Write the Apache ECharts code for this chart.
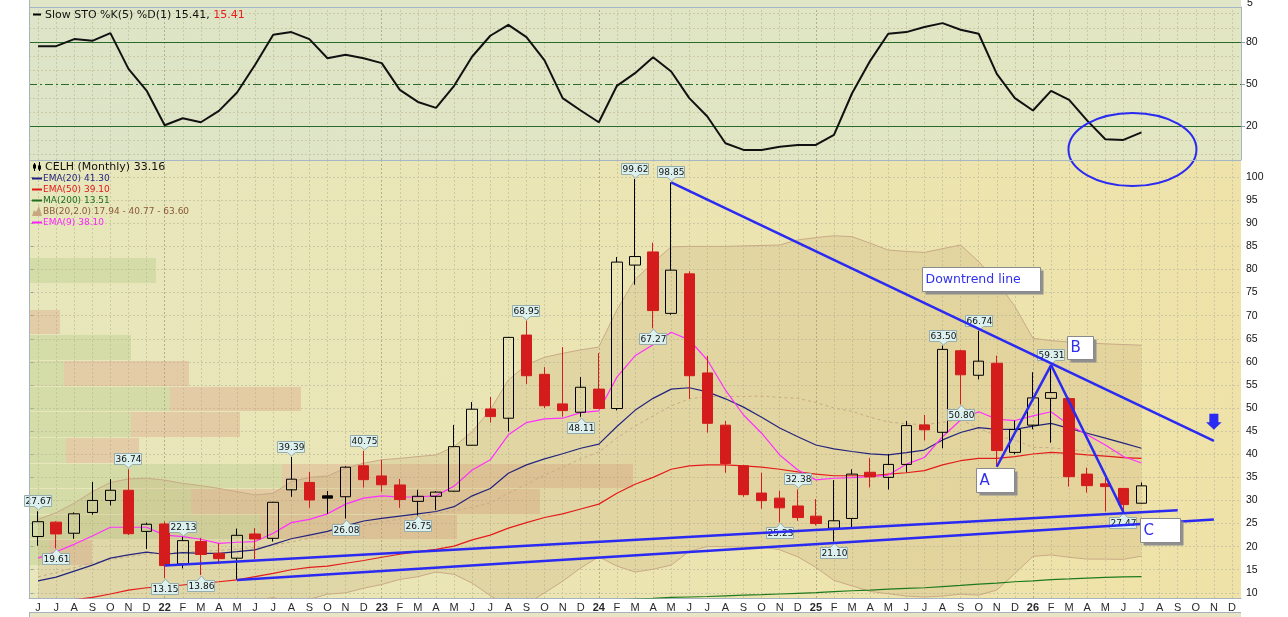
<!DOCTYPE html>
<html>
<head>
<meta charset="utf-8">
<script src="https://cdn.jsdelivr.net/npm/echarts@6/dist/echarts.min.js"></script>
<style>html,body{margin:0;padding:0;background:#fff;}#c{width:1288px;height:617px;}</style>
</head>
<body>
<div id="c"></div>
<script>
// ---------- categories & tick labels ----------
const categories = [
 '2021-06','2021-07','2021-08','2021-09','2021-10','2021-11','2021-12',
 '2022-01','2022-02','2022-03','2022-04','2022-05','2022-06','2022-07','2022-08','2022-09','2022-10','2022-11','2022-12',
 '2023-01','2023-02','2023-03','2023-04','2023-05','2023-06','2023-07','2023-08','2023-09','2023-10','2023-11','2023-12',
 '2024-01','2024-02','2024-03','2024-04','2024-05','2024-06','2024-07','2024-08','2024-09','2024-10','2024-11','2024-12',
 '2025-01','2025-02','2025-03','2025-04','2025-05','2025-06','2025-07','2025-08','2025-09','2025-10','2025-11','2025-12',
 '2026-01','2026-02','2026-03','2026-04','2026-05','2026-06','2026-07','2026-08','2026-09','2026-10','2026-11','2026-12'
];
const tickLabels = [
 'J','J','A','S','O','N','D',
 '22','F','M','A','M','J','J','A','S','O','N','D',
 '23','F','M','A','M','J','J','A','S','O','N','D',
 '24','F','M','A','M','J','J','A','S','O','N','D',
 '25','F','M','A','M','J','J','A','S','O','N','D',
 '26','F','M','A','M','J','J','A','S','O','N','D'
];
const mainTicks = [10,15,20,25,30,35,40,45,50,55,60,65,70,75,80,85,90,95,100];
const stochTicks = [20,50,80];
const stochGridValues = [0,10,30,40,60,70,90,100];

// ---------- OHLC (Jun 2021 .. Jul 2026) ----------
const opens = [22.2,25.3,22.9,27.4,30.0,32.2,23.3,24.9,16.25,21.1,
 18.55,17.5,22.74,21.8,32.3,33.9,31.0,30.8,37.5,35.3,
 33.35,29.8,30.9,32.0,41.95,49.8,47.8,65.8,57.3,50.9,
 49.1,54.1,49.9,80.95,83.8,70.5,79.05,57.6,46.3,37.5,
 31.6,30.5,28.8,26.6,24.0,26.1,36.1,35.0,37.8,46.35,
 44.75,62.4,57.1,59.7,40.4,46.3,52.1,52.05,35.7,33.6,
 32.6,29.4];
const closes = [25.4,22.75,27.1,30.0,32.2,22.8,24.85,15.9,21.3,18.3,
 17.4,22.45,21.66,29.6,34.6,30.1,30.5,37.2,34.5,33.4,
 30.2,30.9,31.8,41.65,49.75,48.15,65.3,57.0,50.5,49.45,
 54.5,49.9,81.6,82.8,71.1,79.85,57.0,46.7,38.0,31.25,
 29.95,28.4,26.3,25.0,25.6,35.7,35.1,37.8,46.2,45.3,
 62.7,57.2,60.15,40.8,45.35,52.2,53.35,35.15,33.2,33.0,
 29.1,33.16];
const lows = [20.2,19.61,21.7,26.9,28.9,22.5,19.5,13.15,15.3,13.86,
 16.25,12.9,17.3,21.1,30.8,28.4,27.1,26.08,32.8,31.9,
 28.4,26.75,27.9,31.9,41.9,46.85,44.9,55.2,50.0,48.15,
 48.11,49.8,49.5,76.7,67.27,70.2,52.0,44.7,36.0,30.8,
 28.2,25.23,25.6,24.6,21.1,24.0,32.8,32.35,36.1,43.0,
 41.3,50.8,56.2,37.3,40.0,45.4,42.5,33.0,31.7,27.6,
 27.47,29.3];
const highs = [27.67,25.5,27.4,34.0,34.6,36.74,25.2,25.4,22.13,21.9,
 20.7,23.9,24.0,29.7,39.39,36.2,32.05,37.4,40.75,38.8,
 34.65,32.3,32.0,46.35,51.3,52.4,65.4,68.95,58.85,63.2,
 56.7,61.9,82.7,99.62,85.8,98.85,79.6,61.3,47.2,37.7,
 36.0,32.1,32.38,30.3,34.4,36.75,39.2,40.0,47.2,48.5,
 63.5,62.6,66.74,61.35,47.3,57.75,59.31,52.3,37.1,35.1,
 32.7,33.9];

// ---------- overlays ----------
const ema9 = [17.5,18.9,20.5,22.3,24.2,24.2,24.2,22.5,22.15,21.6,
 20.7,20.95,21.1,22.9,25.2,25.9,27.1,29.2,30.5,31.0,
 30.7,30.8,31.0,33.1,36.6,38.8,44.2,46.85,47.65,47.8,
 49.0,49.4,56.7,61.3,63.7,66.4,64.75,60.4,53.9,48.5,
 44.55,39.85,36.6,34.45,34.8,34.95,35.15,35.5,37.85,39.3,
 43.8,47.4,49.2,47.6,47.3,48.3,49.2,46.35,44.2,42.0,
 39.5,38.1];
const ema20 = [12.6,13.4,14.7,16.0,17.5,18.2,18.8,18.35,18.7,18.55,
 18.55,18.9,19.3,20.5,21.7,22.5,23.3,24.5,25.55,26.1,
 26.6,27.1,27.6,28.65,31.0,32.6,35.9,37.7,39.0,40.1,
 41.3,42.2,46.0,49.5,52.1,54.1,54.4,53.5,52.0,50.2,
 48.0,45.7,43.8,42.0,41.15,40.6,40.1,39.85,40.35,40.9,
 43.1,44.7,45.75,45.4,45.4,46.1,46.7,45.6,44.55,43.5,
 42.4,41.3];
const ema50 = [7.0,7.7,8.5,9.0,9.75,10.6,11.1,11.3,11.7,12.1,
 12.4,12.8,13.5,14.2,15.0,15.5,15.8,16.4,17.0,17.7,
 18.35,18.9,19.4,20.1,21.45,22.5,24.0,25.2,26.3,27.1,
 28.15,29.2,31.55,33.5,35.0,36.75,37.5,37.7,37.7,37.5,
 37.2,36.75,36.2,35.7,35.35,35.35,35.35,35.7,36.0,36.45,
 37.7,38.6,39.1,39.1,39.5,40.05,40.4,40.2,39.85,39.6,
 39.25,39.1];
const ma200 = [null,null,null,null,null,null,null,null,null,null,
 null,null,null,null,null,null,null,null,null,null,
 null,null,null,null,null,null,null,null,null,null,
 null,8.3,8.5,8.65,8.8,9.0,9.1,9.2,9.35,9.5,
 9.6,9.75,9.9,10.05,10.25,10.45,10.6,10.8,10.95,11.1,
 11.35,11.6,11.9,12.1,12.4,12.6,12.85,13.0,13.2,13.35,
 13.45,13.51];
const bbUpper = [25.9,27.35,29.4,31.9,33.9,34.65,34.8,34.4,33.7,33.2,
 32.6,31.9,31.2,31.55,34.05,35.0,35.3,37.0,38.05,38.8,
 39.1,39.5,39.85,41.65,44.9,49.6,56.1,59.35,61.0,61.85,
 62.6,63.2,71.25,77.8,81.5,84.9,85.0,85.0,85.0,85.1,
 85.2,85.3,86.4,86.9,87.3,87.1,85.7,84.2,83.9,83.7,
 84.5,85.3,81.7,77.4,72.0,65.1,64.6,64.3,64.1,63.9,
 63.75,63.6];
const bbLower = [1.0,1.5,1.5,1.0,0.5,1.0,2.0,2.8,3.9,4.8,
 5.8,7.1,8.4,9.0,8.0,8.6,9.7,10.0,11.0,11.8,
 12.9,13.5,14.5,14.0,12.1,9.4,7.0,7.6,10.0,12.5,
 15.4,17.8,15.8,14.5,15.1,16.0,19.0,20.0,20.0,19.9,
 20.0,19.3,17.8,15.5,12.7,11.5,10.3,9.8,9.3,9.1,
 9.3,9.7,9.5,10.6,14.2,17.9,18.2,17.7,17.3,17.3,
 17.25,17.94];
const bbMiddle = [13.45,14.4,15.45,16.45,17.2,17.8,18.4,18.6,18.8,19.0,
 19.2,19.5,19.8,20.3,21.0,21.8,22.5,23.5,24.5,25.3,
 26.0,26.5,27.2,27.8,28.5,29.5,31.55,33.5,35.5,37.2,
 39.0,40.5,43.5,46.1,48.3,50.45,52.0,52.5,52.5,52.5,
 52.6,52.3,52.1,51.2,50.0,49.3,48.0,47.0,46.6,46.4,
 46.9,47.5,45.6,44.0,43.1,41.5,41.4,41.0,40.7,40.6,
 40.5,40.77];

// ---------- Slow stochastic %K ----------
const stochK = [76.9,76.9,81.9,80.7,86.2,60.7,45.2,20.5,25.5,22.6,
 30.7,43.8,63.6,85.0,86.9,81.9,68.3,70.7,68.3,64.8,
 45.7,37.1,32.9,48.6,69.5,84.3,92.1,83.3,66.7,39.8,
 31.0,22.6,48.6,57.6,69.0,58.8,39.8,26.7,7.6,2.9,
 2.9,5.2,6.4,6.4,13.6,43.3,66.4,85.7,86.9,90.5,
 93.3,88.6,85.7,57.1,39.8,31.0,45.0,38.6,23.8,10.5,
 10.0,15.41];

// ---------- Volume by price ----------
const vbpLow  = [77.05,71.5,65.95,60.4,54.85,49.3,43.75,38.2,32.65,27.1,21.55,16.0];
const vbpHigh = [82.6,77.05,71.5,65.95,60.4,54.85,49.3,43.75,38.2,32.65,27.1,21.55];
const vbpUp   = [127,0,0,102,35,141,102,37,253,162,231,20];
const vbpDown = [0,0,31,0,125,131,109,73,351,349,197,43];

// ---------- price callouts ----------
const highLabelIdx = [0,5,8,14,18,27,33,35,42,50,52,56];
const lowLabelIdx  = [1,7,9,17,21,30,34,41,44,51,60];

// ---------- drawn annotations (category index, price) ----------
const downtrend = [[35,98.85],[65,42.9]];
const supportUpper = [[7,15.9],[63,27.9]];
const supportLower = [[11,12.8],[65,25.9]];
const abcPath = [[53,37.3],[56,59.31],[60,27.47]];
const annotText = ['Downtrend line','A','B','C'];
const annotX = [48.85,51.85,56.86,60.92];
const annotY = [80.5,37.0,65.6,26.2];
const arrowAt = [65,48.75];
const circleAt = [60.5,3.2];

// ====================================================
const FONT = '"DejaVu Sans", Verdana, sans-serif';
const AFONT = '"Liberation Sans", Arial, sans-serif';
const BLUE = '#2a2af2';
const annotSize = [[118,24,12.5],[38,24,15],[26,23,15],[40,24,15]];

function fcoord(api, x, y) {
  const i0 = Math.floor(x), f = x - i0;
  const p0 = api.coord([i0, y]);
  if (f === 0) return p0;
  const p1 = api.coord([i0 + 1, y]);
  return [p0[0] + (p1[0] - p0[0]) * f, p0[1]];
}
const mctx = document.createElement('canvas').getContext('2d');
function textW(t, font) { mctx.font = font; return mctx.measureText(t).width; }

const candleData = opens.map((o, i) => {
  const c = closes[i], prev = i > 0 ? closes[i - 1] : o;
  const item = { value: [o, c, lows[i], highs[i]] };
  if (c < o && c >= prev) item.itemStyle = { color0: '#000', borderColor0: '#000' };
  if (c > o && c < prev) item.itemStyle = { borderColor: '#d42020' };
  return item;
});

const labelData = highLabelIdx.map(i => [i, highs[i], 1]).concat(lowLabelIdx.map(i => [i, lows[i], -1]));

const vLines = categories.map((c, i) => ({
  xAxis: c,
  lineStyle: { color: tickLabels[i].length === 2 ? '#b3ae8c' : '#cdc8a4', type: [2, 2], width: 1 }
}));
const gridLineBase = { color: '#cdc8a4', type: [2, 2], width: 1 };
const nullData = categories.map(() => null);

const stochLegend1 = 'Slow STO %K(5) %D(1) 15.41, ';
const legendFont11 = '11px ' + FONT;

const mainGrad = new echarts.graphic.LinearGradient(0, 0, 1, 1, [
  { offset: 0, color: '#e7e7bd' }, { offset: 1, color: '#efe2a7' }]);
const stochGrad = new echarts.graphic.LinearGradient(0, 0, 1, 1, [
  { offset: 0, color: '#dde4c7' }, { offset: 1, color: '#e2e6c2' }]);

function legendLine(y, color, text, tcolor) {
  return [
    { type: 'line', shape: { x1: 32, y1: y + 0.5, x2: 42, y2: y + 0.5 }, style: { stroke: color, lineWidth: 2 }, z: 100 },
    { type: 'text', x: 43, y: y + 1, style: { text: text, font: '9px ' + FONT, fill: tcolor, textVerticalAlign: 'middle', verticalAlign: 'middle' }, z: 100 }
  ];
}

const graphics = [
  { type: 'rect', shape: { x: 29, y: 0, width: 1212, height: 7 }, style: { fill: '#dfe5c6' }, z: -1, silent: true },
  { type: 'rect', shape: { x: 29, y: 7, width: 1212, height: 153 }, style: { fill: stochGrad }, z: -1, silent: true },
  { type: 'rect', shape: { x: 29, y: 160, width: 1212, height: 438 }, style: { fill: mainGrad }, z: -1, silent: true },
  { type: 'rect', shape: { x: 29, y: 612, width: 1212, height: 6 }, style: { fill: '#e9e4c6' }, z: -1, silent: true },
  { type: 'line', shape: { x1: 29, y1: 612.5, x2: 1241, y2: 612.5 }, style: { stroke: '#a5b2bd', lineWidth: 1 }, z: 50 },
  { type: 'line', shape: { x1: 29.5, y1: 0, x2: 29.5, y2: 598 }, style: { stroke: '#a5b4c0', lineWidth: 1 }, z: 50 },
  { type: 'line', shape: { x1: 29.5, y1: 612, x2: 29.5, y2: 617 }, style: { stroke: '#a5b4c0', lineWidth: 1 }, z: 50 },
  { type: 'line', shape: { x1: 29, y1: 7.5, x2: 1241, y2: 7.5 }, style: { stroke: '#a5b7c5', lineWidth: 1 }, z: 50 },
  { type: 'line', shape: { x1: 29, y1: 160.5, x2: 1241, y2: 160.5 }, style: { stroke: '#a5b7c5', lineWidth: 1 }, z: 50 },
  { type: 'text', x: 1247, y: 3, style: { text: '5', font: '10.5px ' + AFONT, fill: '#111', textVerticalAlign: 'middle', verticalAlign: 'middle' }, z: 50 },
  // stochastic legend
  { type: 'line', shape: { x1: 33, y1: 14.5, x2: 41, y2: 14.5 }, style: { stroke: '#000', lineWidth: 2 }, z: 100 },
  { type: 'text', x: 45, y: 15, style: { text: stochLegend1, font: legendFont11, fill: '#111', textVerticalAlign: 'middle', verticalAlign: 'middle' }, z: 100 },
  { type: 'text', x: 45 + textW(stochLegend1, legendFont11), y: 15, style: { text: '15.41', font: legendFont11, fill: '#e82020', textVerticalAlign: 'middle', verticalAlign: 'middle' }, z: 100 },
  // price legend
  { type: 'line', shape: { x1: 34.5, y1: 163, x2: 34.5, y2: 171 }, style: { stroke: '#000', lineWidth: 1 }, z: 100 },
  { type: 'rect', shape: { x: 33, y: 164.5, width: 3, height: 4 }, style: { fill: '#000' }, z: 100 },
  { type: 'line', shape: { x1: 39.5, y1: 162, x2: 39.5, y2: 171 }, style: { stroke: '#000', lineWidth: 1 }, z: 100 },
  { type: 'rect', shape: { x: 38, y: 165.5, width: 3, height: 4 }, style: { fill: '#000' }, z: 100 },
  { type: 'text', x: 45, y: 167, style: { text: 'CELH (Monthly) 33.16', font: legendFont11, fill: '#111', textVerticalAlign: 'middle', verticalAlign: 'middle' }, z: 100 },
  ...legendLine(178, '#1e1e80', 'EMA(20) 41.30', '#1e1e80'),
  ...legendLine(189, '#e01818', 'EMA(50) 39.10', '#e01818'),
  ...legendLine(200, '#1e6e1e', 'MA(200) 13.51', '#1e6e1e'),
  { type: 'polygon', shape: { points: [[32, 216], [34, 210], [36, 212], [39, 206], [42, 216]] }, style: { fill: '#c8a680' }, z: 100 },
  { type: 'text', x: 43, y: 212, style: { text: 'BB(20,2.0) 17.94 - 40.77 - 63.60', font: '9px ' + FONT, fill: '#8c5a36', textVerticalAlign: 'middle', verticalAlign: 'middle' }, z: 100 },
  ...legendLine(222, '#ff22ff', 'EMA(9) 38.10', '#ff22ff')
];

const lineS = (data, color, width, z, extra) => Object.assign({
  type: 'line', xAxisIndex: 1, yAxisIndex: 1, data: data, showSymbol: false, symbol: 'none', silent: true,
  lineStyle: { color: color, width: width }, z: z
}, extra || {});

const option = {
  animation: false,
  backgroundColor: '#ffffff',
  textStyle: { fontFamily: FONT },
  graphic: { elements: graphics },
  grid: [
    { left: 29, top: 7, width: 1212, height: 153 },
    { left: 29, top: 160, width: 1212, height: 438 }
  ],
  xAxis: [
    { type: 'category', gridIndex: 0, data: categories, boundaryGap: true,
      axisLine: { show: false }, axisTick: { show: false }, axisLabel: { show: false }, splitLine: { show: false } },
    { type: 'category', gridIndex: 1, data: categories, boundaryGap: true,
      axisLine: { show: true, lineStyle: { color: '#a5b4c0' } }, axisTick: { show: false }, splitLine: { show: false },
      axisLabel: { interval: 0, margin: 4, fontSize: 11, fontFamily: AFONT, color: '#2a2a2a',
        formatter: (v, i) => tickLabels[i].length === 2 ? '{y|' + tickLabels[i] + '}' : tickLabels[i],
        rich: { y: { fontWeight: 'bold', fontSize: 11, fontFamily: AFONT, color: '#2a2a2a' } } } },
    { type: 'value', gridIndex: 1, min: 0, max: 1212, show: false }
  ],
  yAxis: [
    { type: 'value', gridIndex: 0, position: 'right', min: -4.3, max: 104.8,
      axisLine: { show: true, lineStyle: { color: '#a5b4c0' } },
      axisTick: { show: true, customValues: stochTicks, length: 4, lineStyle: { color: '#8e9eac' } },
      axisLabel: { customValues: stochTicks, margin: 5, fontSize: 10.5, fontFamily: AFONT, color: '#111' },
      splitLine: { show: false } },
    { type: 'value', gridIndex: 1, position: 'right', min: 8.88, max: 103.7,
      axisLine: { show: true, lineStyle: { color: '#a5b4c0' } },
      axisTick: { show: true, customValues: mainTicks, length: 4, lineStyle: { color: '#8e9eac' } },
      axisLabel: { customValues: mainTicks, margin: 5, fontSize: 10.5, fontFamily: AFONT, color: '#111' },
      splitLine: { show: false } }
  ],
  series: [
    // volume by price
    { type: 'custom', xAxisIndex: 2, yAxisIndex: 1, z: 1, silent: true, clip: true,
      data: vbpLow.map((lo, k) => [vbpUp[k] + vbpDown[k], vbpHigh[k], lo, vbpUp[k], vbpDown[k]]),
      encode: { x: 0, y: 1 },
      renderItem(params, api) {
        const hi = api.value(1), lo = api.value(2), up = api.value(3), dn = api.value(4);
        const top = Math.round(api.coord([0, hi])[1]);
        const bot = Math.round(api.coord([0, lo])[1]);
        const x0 = api.coord([0, hi])[0];
        const xUp = api.coord([up, hi])[0];
        const xEnd = api.coord([up + dn, hi])[0];
        const ch = [];
        if (up > 0) ch.push({ type: 'rect', shape: { x: x0, y: top + 1, width: xUp - x0, height: bot - top - 1 }, style: { fill: 'rgba(170,196,126,0.32)' } });
        if (dn > 0) ch.push({ type: 'rect', shape: { x: xUp, y: top + 1, width: xEnd - xUp, height: bot - top - 1 }, style: { fill: 'rgba(214,146,120,0.30)' } });
        return { type: 'group', children: ch };
      } },
    // Bollinger band fill
    { type: 'custom', xAxisIndex: 1, yAxisIndex: 1, z: 1, silent: true, clip: true,
      data: [[0, bbMiddle[0]]],
      renderItem(params, api) {
        const pts = [];
        for (let i = 0; i < bbUpper.length; i++) pts.push(api.coord([i, bbUpper[i]]));
        for (let i = bbLower.length - 1; i >= 0; i--) pts.push(api.coord([i, bbLower[i]]));
        return { type: 'polygon', shape: { points: pts }, style: { fill: 'rgba(180,140,90,0.17)' } };
      } },
    // main grid lines
    { type: 'line', xAxisIndex: 1, yAxisIndex: 1, data: nullData, showSymbol: false, silent: true, z: 1,
      markLine: { z: 1, silent: true, symbol: ['none', 'none'], label: { show: false }, animation: false,
        lineStyle: gridLineBase,
        data: vLines.concat(mainTicks.map(v => ({ yAxis: v, lineStyle: gridLineBase }))) } },
    // stochastic grid lines
    { type: 'line', xAxisIndex: 0, yAxisIndex: 0, data: nullData, showSymbol: false, silent: true, z: 1,
      markLine: { z: 1, silent: true, symbol: ['none', 'none'], label: { show: false }, animation: false,
        lineStyle: gridLineBase,
        data: vLines.concat(stochGridValues.map(v => ({ yAxis: v, lineStyle: gridLineBase })))
          .concat([
            { yAxis: 80, lineStyle: { color: '#2a6a2a', width: 1.2, type: 'solid' } },
            { yAxis: 20, lineStyle: { color: '#2a6a2a', width: 1.2, type: 'solid' } },
            { yAxis: 50, lineStyle: { color: '#2a6a2a', width: 1.2, type: [8, 3, 2, 3] } }
          ]) } },
    // Bollinger lines
    lineS(bbUpper, '#c9aa86', 1, 2),
    lineS(bbLower, '#c9aa86', 1, 2),
    lineS(bbMiddle, '#c9aa86', 1, 2, { lineStyle: { color: '#c9aa86', width: 1, type: [3, 3] } }),
    // moving averages
    lineS(ma200, '#1e7a1e', 1.2, 3),
    lineS(ema50, '#e41c1c', 1.2, 3),
    lineS(ema20, '#24247e', 1.2, 3),
    lineS(ema9, '#ff30ff', 1.2, 3),
    // candles
    { type: 'candlestick', xAxisIndex: 1, yAxisIndex: 1, z: 4, silent: true, barWidth: 11,
      itemStyle: { color: 'rgba(0,0,0,0)', color0: '#d41c1c', borderColor: '#000', borderColor0: '#d41c1c', borderWidth: 1 },
      data: candleData },
    // price callouts
    { type: 'custom', xAxisIndex: 1, yAxisIndex: 1, z: 5, silent: true,
      data: labelData,
      renderItem(params, api) {
        const idx = api.value(0), val = api.value(1), dir = api.value(2);
        const p = api.coord([idx, val]);
        const w = 27, h = 11, ph = 4;
        const cx = Math.round(p[0]) + 0.5;
        const left = cx - Math.round(w / 2);
        let pts, boxY;
        if (dir > 0) {
          const tip = Math.round(p[1]) - 1;
          boxY = tip - ph - h + 0.5;
          pts = [[left, boxY], [left + w, boxY], [left + w, boxY + h], [cx + 4, boxY + h], [cx, tip], [cx - 4, boxY + h], [left, boxY + h]];
        } else {
          const tip = Math.round(p[1]) + 1;
          boxY = tip + ph + 0.5;
          pts = [[left, boxY], [cx - 4, boxY], [cx, tip], [cx + 4, boxY], [left + w, boxY], [left + w, boxY + h], [left, boxY + h]];
        }
        return { type: 'group', children: [
          { type: 'polygon', shape: { points: pts }, style: { fill: '#dcf0ee', stroke: '#97adad', lineWidth: 1 } },
          { type: 'text', style: { text: val.toFixed(2), x: cx, y: boxY + h / 2 + 0.5, font: '9px ' + FONT, fill: '#111',
            align: 'center', verticalAlign: 'middle', textAlign: 'center', textVerticalAlign: 'middle' } }
        ] };
      } },
    // trend lines
    lineS(downtrend, BLUE, 2.5, 6),
    lineS(supportUpper, BLUE, 2.5, 6),
    lineS(supportLower, BLUE, 2.5, 6),
    lineS(abcPath, BLUE, 2.5, 6),
    // annotation boxes
    { type: 'custom', xAxisIndex: 1, yAxisIndex: 1, z: 7, silent: true, clip: false,
      data: annotX.map((x, k) => [Math.round(x), annotY[k]]),
      renderItem(params, api) {
        const k = params.dataIndex;
        const p = fcoord(api, annotX[k], annotY[k]);
        const [w, h, fs] = annotSize[k];
        const x = Math.round(p[0]) + 0.5, y = Math.round(p[1]) + 0.5;
        return { type: 'group', children: [
          { type: 'rect', shape: { x: x + 3, y: y + 3, width: w, height: h }, style: { fill: '#8f8f8f' } },
          { type: 'rect', shape: { x: x, y: y, width: w, height: h }, style: { fill: '#ffffff', stroke: '#8a8a8a', lineWidth: 1 } },
          { type: 'text', style: { text: annotText[k], x: x + 3, y: y + h / 2 + 0.5, font: fs + 'px ' + FONT, fill: '#3030ee',
            align: 'left', verticalAlign: 'middle', textAlign: 'left', textVerticalAlign: 'middle' } }
        ] };
      } },
    // down arrow
    { type: 'custom', xAxisIndex: 1, yAxisIndex: 1, z: 7, silent: true,
      data: [arrowAt],
      renderItem(params, api) {
        const p = api.coord([api.value(0), api.value(1)]);
        const x = p[0], y = p[1];
        return { type: 'polygon', shape: { points: [[x - 4.5, y], [x + 4.5, y], [x + 4.5, y + 8.5], [x + 7.8, y + 8.5], [x, y + 16],
          [x - 7.8, y + 8.5], [x - 4.5, y + 8.5]] }, style: { fill: '#2a2af2' } };
      } },
    // stochastic line
    { type: 'line', xAxisIndex: 0, yAxisIndex: 0, data: stochK, showSymbol: false, symbol: 'none', silent: true, z: 5,
      lineStyle: { color: '#111', width: 2 } },
    // ellipse
    { type: 'custom', xAxisIndex: 0, yAxisIndex: 0, z: 8, silent: true, clip: false,
      data: [[Math.floor(circleAt[0]), circleAt[1]]],
      renderItem(params, api) {
        const p = fcoord(api, circleAt[0], circleAt[1]);
        return { type: 'ellipse', shape: { cx: p[0], cy: p[1], rx: 64, ry: 36.5 }, style: { fill: 'none', stroke: '#2a2af2', lineWidth: 2 } };
      } }
  ]
};

const chart = echarts.init(document.getElementById('c'), null, { renderer: 'canvas', width: 1288, height: 617 });
chart.setOption(option);
</script>
</body>
</html>
